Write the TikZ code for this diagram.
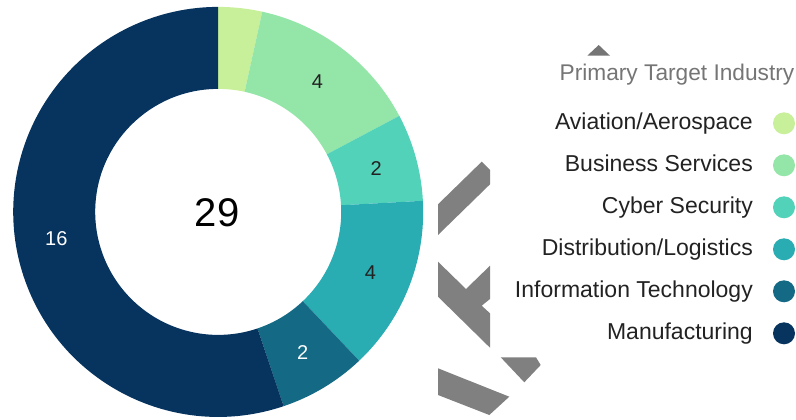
\documentclass[tikz,border=0pt]{standalone}
\usepackage{fontspec}
\setmainfont{Liberation Sans}
\definecolor{cAvi}{HTML}{C8F09A}
\definecolor{cBus}{HTML}{93E5A8}
\definecolor{cCyb}{HTML}{53D2BA}
\definecolor{cDis}{HTML}{29ACB2}
\definecolor{cInf}{HTML}{146985}
\definecolor{cMan}{HTML}{06345F}
\definecolor{cTxt}{HTML}{222222}
\definecolor{cTitle}{HTML}{757575}
\definecolor{cArt}{HTML}{808080}
\newcommand\donutslice[3]{%
  \fill[#3] ({#1*360/29-90}:205) arc[start angle={#1*360/29-90}, end angle={#2*360/29-90}, radius=205]
    -- ({#2*360/29-90}:123) arc[start angle={#2*360/29-90}, end angle={#1*360/29-90}, radius=123] -- cycle;}
\tikzset{
  slicelabel/.style={font=\fontsize{20}{24}\selectfont, inner sep=0pt},
  legtext/.style={font=\fontsize{23}{28}\selectfont, text=cTxt, anchor=base east, inner sep=0pt},
  legdot/.style={circle, minimum size=22pt, inner sep=0pt},
  artifact/.style={fill=cArt}
}
\begin{document}
\begin{tikzpicture}[x=1pt,y=-1pt]
\useasboundingbox (0,0) rectangle (796,420);
\begin{scope}[shift={(218.2,211.9)}]
  \donutslice{0}{1}{cAvi}
  \donutslice{1}{5}{cBus}
  \donutslice{5}{7}{cCyb}
  \donutslice{7}{11}{cDis}
  \donutslice{11}{13}{cInf}
  \donutslice{13}{29}{cMan}
  \node[font=\fontsize{40}{48}\selectfont, text=black, inner sep=0pt] (total) at (-1,1) {29};
  \node[slicelabel, text=cTxt] (lbus) at ({3*360/29-90}:164) {4};
  \node[slicelabel, text=cTxt] (lcyb) at ({6*360/29-90}:164) {2};
  \node[slicelabel, text=cTxt] (ldis) at ({9*360/29-90}:164) {4};
  \node[slicelabel, text=white] (linf) at ({12*360/29-90}:164) {2};
  \node[slicelabel, text=white] (lman) at ({21*360/29-90}:164) {16};
\end{scope}
% legend
\fill[cTitle] (587.3,55.7) -- (598.7,45) -- (610,55.7) -- cycle;
\node[font=\fontsize{22.7}{27}\selectfont, text=cTitle, anchor=base east, inner sep=0pt] (title) at (794.5,80.5) {Primary Target Industry};
\node[legtext] (tavi) at (753,129) {Aviation/Aerospace};
\node[legtext] (tbus) at (753,171) {Business Services};
\node[legtext] (tcyb) at (753,213) {Cyber Security};
\node[legtext] (tdis) at (753,255) {Distribution/Logistics};
\node[legtext] (tinf) at (753,297) {Information Technology};
\node[legtext] (tman) at (753,339) {Manufacturing};
\node[legdot, fill=cAvi] (davi) at (784,123.3) {};
\node[legdot, fill=cBus] (dbus) at (784,165.3) {};
\node[legdot, fill=cCyb] (dcyb) at (784,207.3) {};
\node[legdot, fill=cDis] (ddis) at (784,249.3) {};
\node[legdot, fill=cInf] (dinf) at (784,291.3) {};
\node[legdot, fill=cMan] (dman) at (784,333.3) {};
% grey artifacts
\fill[artifact] (438,204.3) -- (481.7,161.7) -- (490,170) -- (490,184.3) -- (438,235) -- cycle;
\fill[artifact] (438,261.7) -- (466,289) -- (490,265.7) -- (490,299) -- (481.7,305.7) -- (490,313.3) -- (490,347.7) -- (438,296.7) -- cycle;
\fill[artifact] (438,368.3) -- (509.3,396.7) -- (489.3,415) -- (438,395) -- cycle;
\fill[artifact] (500.7,357.3) -- (536,357.3) -- (540.7,365) -- (524.3,382.3) -- cycle;
\end{tikzpicture}
\end{document}
